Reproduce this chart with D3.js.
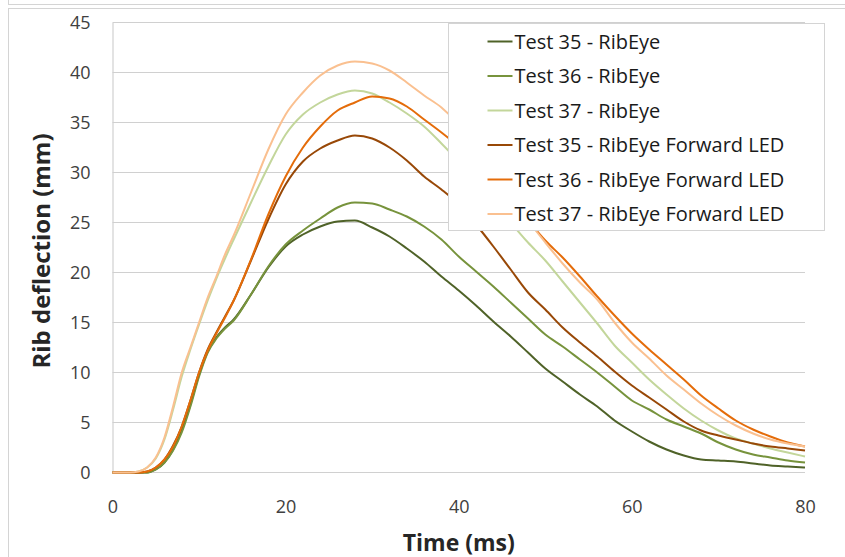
<!DOCTYPE html>
<html>
<head>
<meta charset="utf-8">
<script src="https://cdn.jsdelivr.net/npm/d3@7"></script>
<style>
  body { margin: 0; background: #fff; }
  text { font-family: "Open Sans", sans-serif; }
</style>
</head>
<body>
<div id="chart"></div>
<script>
// time axis (ms)
var times = [0,2,3,4,5,6,7,8,9,10,11,12,13,14,16,18,20,22,24,26,28,30,32,34,36,38,40,42,44,46,48,50,52,54,56,58,60,62,64,66,68,70,72,74,76,78,80];

// rib deflection (mm)
var t35RibEye = [0,0,0,0,0.3,1.0,2.3,4.2,6.8,9.8,12.1,13.5,14.5,15.3,17.8,20.5,22.6,23.8,24.6,25.1,25.2,24.5,23.6,22.4,21.1,19.6,18.2,16.7,15.1,13.6,12.0,10.4,9.1,7.8,6.6,5.2,4.1,3.1,2.3,1.7,1.3,1.2,1.1,0.9,0.7,0.6,0.5];
var t36RibEye = [0,0,0,0,0.3,1.0,2.2,4.0,6.6,9.6,12.0,13.4,14.4,15.2,17.8,20.6,22.8,24.2,25.4,26.5,27.0,26.9,26.3,25.6,24.6,23.3,21.6,20.1,18.6,17.0,15.4,13.8,12.6,11.3,10.0,8.6,7.2,6.3,5.3,4.6,3.9,3.0,2.3,1.8,1.5,1.2,1.0];
var t37RibEye = [0,0,0.1,0.5,1.4,3.3,6.3,9.6,12.3,14.8,17.2,19.4,21.4,23.3,27.0,30.6,33.8,35.8,37.0,37.8,38.2,37.9,37.0,35.9,34.6,32.9,31.1,29.2,27.1,25.0,23.0,21.2,19.1,17.0,14.9,12.7,11.0,9.3,7.8,6.4,5.2,4.2,3.4,2.9,2.4,2.0,1.6];
var t35Fwd = [0,0,0,0.1,0.5,1.3,2.7,4.6,7.2,10.0,12.3,14.0,15.6,17.2,21.2,25.3,28.8,31.1,32.4,33.2,33.7,33.4,32.5,31.2,29.6,28.3,26.8,24.8,22.6,20.3,18.0,16.3,14.5,13.0,11.6,10.1,8.7,7.5,6.3,5.1,4.2,3.7,3.3,2.9,2.6,2.4,2.2];
var t36Fwd = [0,0,0,0.1,0.5,1.3,2.6,4.6,7.2,10.0,12.2,13.9,15.5,17.2,21.3,25.8,29.6,32.5,34.6,36.2,37.0,37.6,37.4,36.6,35.3,34.0,32.6,31.0,29.2,27.3,25.2,23.2,21.5,19.6,17.6,15.7,13.9,12.3,10.8,9.3,7.7,6.4,5.2,4.3,3.6,3.0,2.6];
var t37Fwd = [0,0,0.1,0.5,1.5,3.5,6.6,10.0,12.5,15.0,17.5,19.6,21.8,23.7,28.0,32.3,35.8,38.0,39.7,40.7,41.1,40.9,40.2,39.0,37.7,36.5,34.8,32.6,30.1,27.6,25.2,23.0,20.9,19.0,17.3,15.0,13.0,11.4,9.7,8.3,6.9,5.7,4.7,3.9,3.3,2.9,2.6];

var seriesNames = ['Test 35 - RibEye', 'Test 36 - RibEye', 'Test 37 - RibEye',
                   'Test 35 - RibEye Forward LED', 'Test 36 - RibEye Forward LED', 'Test 37 - RibEye Forward LED'];
var seriesColors = ['#4f6228', '#77933c', '#c3d69b', '#984807', '#e46c0a', '#fac090'];
var seriesValues = [t35RibEye, t36RibEye, t37RibEye, t35Fwd, t36Fwd, t37Fwd];

var xTicks = [0, 20, 40, 60, 80];
var yTicks = [0, 5, 10, 15, 20, 25, 30, 35, 40, 45];

var width = 845, height = 557;
var margin = {top: 22.5, right: 40, bottom: 84.5, left: 112.5};
var drawWidth = 805 - margin.left;
var drawHeight = height - margin.top - margin.bottom;

var svg = d3.select('#chart').append('svg')
    .attr('width', width)
    .attr('height', height);

// outer frames
svg.append('rect')
    .attr('x', 8.5).attr('y', -20).attr('width', 900).attr('height', 24.5)
    .attr('fill', 'none').attr('stroke', '#d4d4d4');
svg.append('rect')
    .attr('x', 8.5).attr('y', 8.5).attr('width', 900).attr('height', 600)
    .attr('fill', 'none').attr('stroke', '#d4d4d4');

var xScale = d3.scaleLinear().domain([0, 80]).range([0, drawWidth]);
var yScale = d3.scaleLinear().domain([0, 45]).range([drawHeight, 0]);

var g = svg.append('g')
    .attr('transform', 'translate(' + margin.left + ',' + margin.top + ')');

// gridlines
g.append('g').attr('class', 'grid')
    .selectAll('line').data(yTicks).enter().append('line')
    .attr('x1', 0).attr('x2', drawWidth)
    .attr('y1', function(d) { return yScale(d); })
    .attr('y2', function(d) { return yScale(d); })
    .attr('stroke', '#d0d0d0').attr('stroke-width', 1.2);

// axes
var xAxis = d3.axisBottom(xScale).tickValues(xTicks).tickSize(0).tickPadding(28);
var yAxis = d3.axisLeft(yScale).tickValues(yTicks).tickSize(0).tickPadding(22);

var xg = g.append('g').attr('transform', 'translate(0,' + drawHeight + ')').call(xAxis);
var yg = g.append('g').call(yAxis);
xg.select('.domain').remove();
yg.select('.domain').attr('stroke', '#d0d0d0').attr('stroke-width', 1.2);
[xg, yg].forEach(function(a) {
    a.selectAll('text')
        .style('font-family', '"Open Sans", sans-serif')
        .style('font-size', '18px')
        .attr('fill', '#404040');
});

// lines
var line = d3.line()
    .x(function(d) { return xScale(d[0]); })
    .y(function(d) { return yScale(d[1]); })
    .curve(d3.curveMonotoneX);

g.selectAll('.series').data(seriesValues).enter().append('path')
    .attr('class', 'series')
    .attr('d', function(vals) { return line(times.map(function(t, i) { return [t, vals[i]]; })); })
    .attr('fill', 'none')
    .attr('stroke', function(d, i) { return seriesColors[i]; })
    .attr('stroke-width', 2);

// axis titles
svg.append('text')
    .attr('transform', 'translate(50,' + 251 + ') rotate(-90)')
    .attr('text-anchor', 'middle')
    .style('font-size', '24px').style('font-weight', 'bold')
    .attr('fill', '#262626')
    .text('Rib deflection (mm)');

svg.append('text')
    .attr('x', margin.left + drawWidth / 2)
    .attr('y', 551)
    .attr('text-anchor', 'middle')
    .style('font-size', '23px').style('font-weight', 'bold')
    .attr('fill', '#262626')
    .text('Time (ms)');

// legend
var legend = svg.append('g').attr('transform', 'translate(448.5,23.5)');
legend.append('rect')
    .attr('width', 376).attr('height', 207)
    .attr('fill', '#fff').attr('stroke', '#d4d4d4');

var items = legend.selectAll('.item').data(seriesNames).enter().append('g')
    .attr('class', 'item')
    .attr('transform', function(d, i) { return 'translate(0,' + (18 + i * 34.5) + ')'; });
items.append('line')
    .attr('x1', 39).attr('x2', 64)
    .attr('stroke', function(d, i) { return seriesColors[i]; })
    .attr('stroke-width', 2);
items.append('text')
    .attr('x', 66).attr('dy', '0.35em')
    .style('font-size', '20px')
    .attr('fill', '#1a1a1a')
    .text(function(d) { return d; });
</script>
</body>
</html>
